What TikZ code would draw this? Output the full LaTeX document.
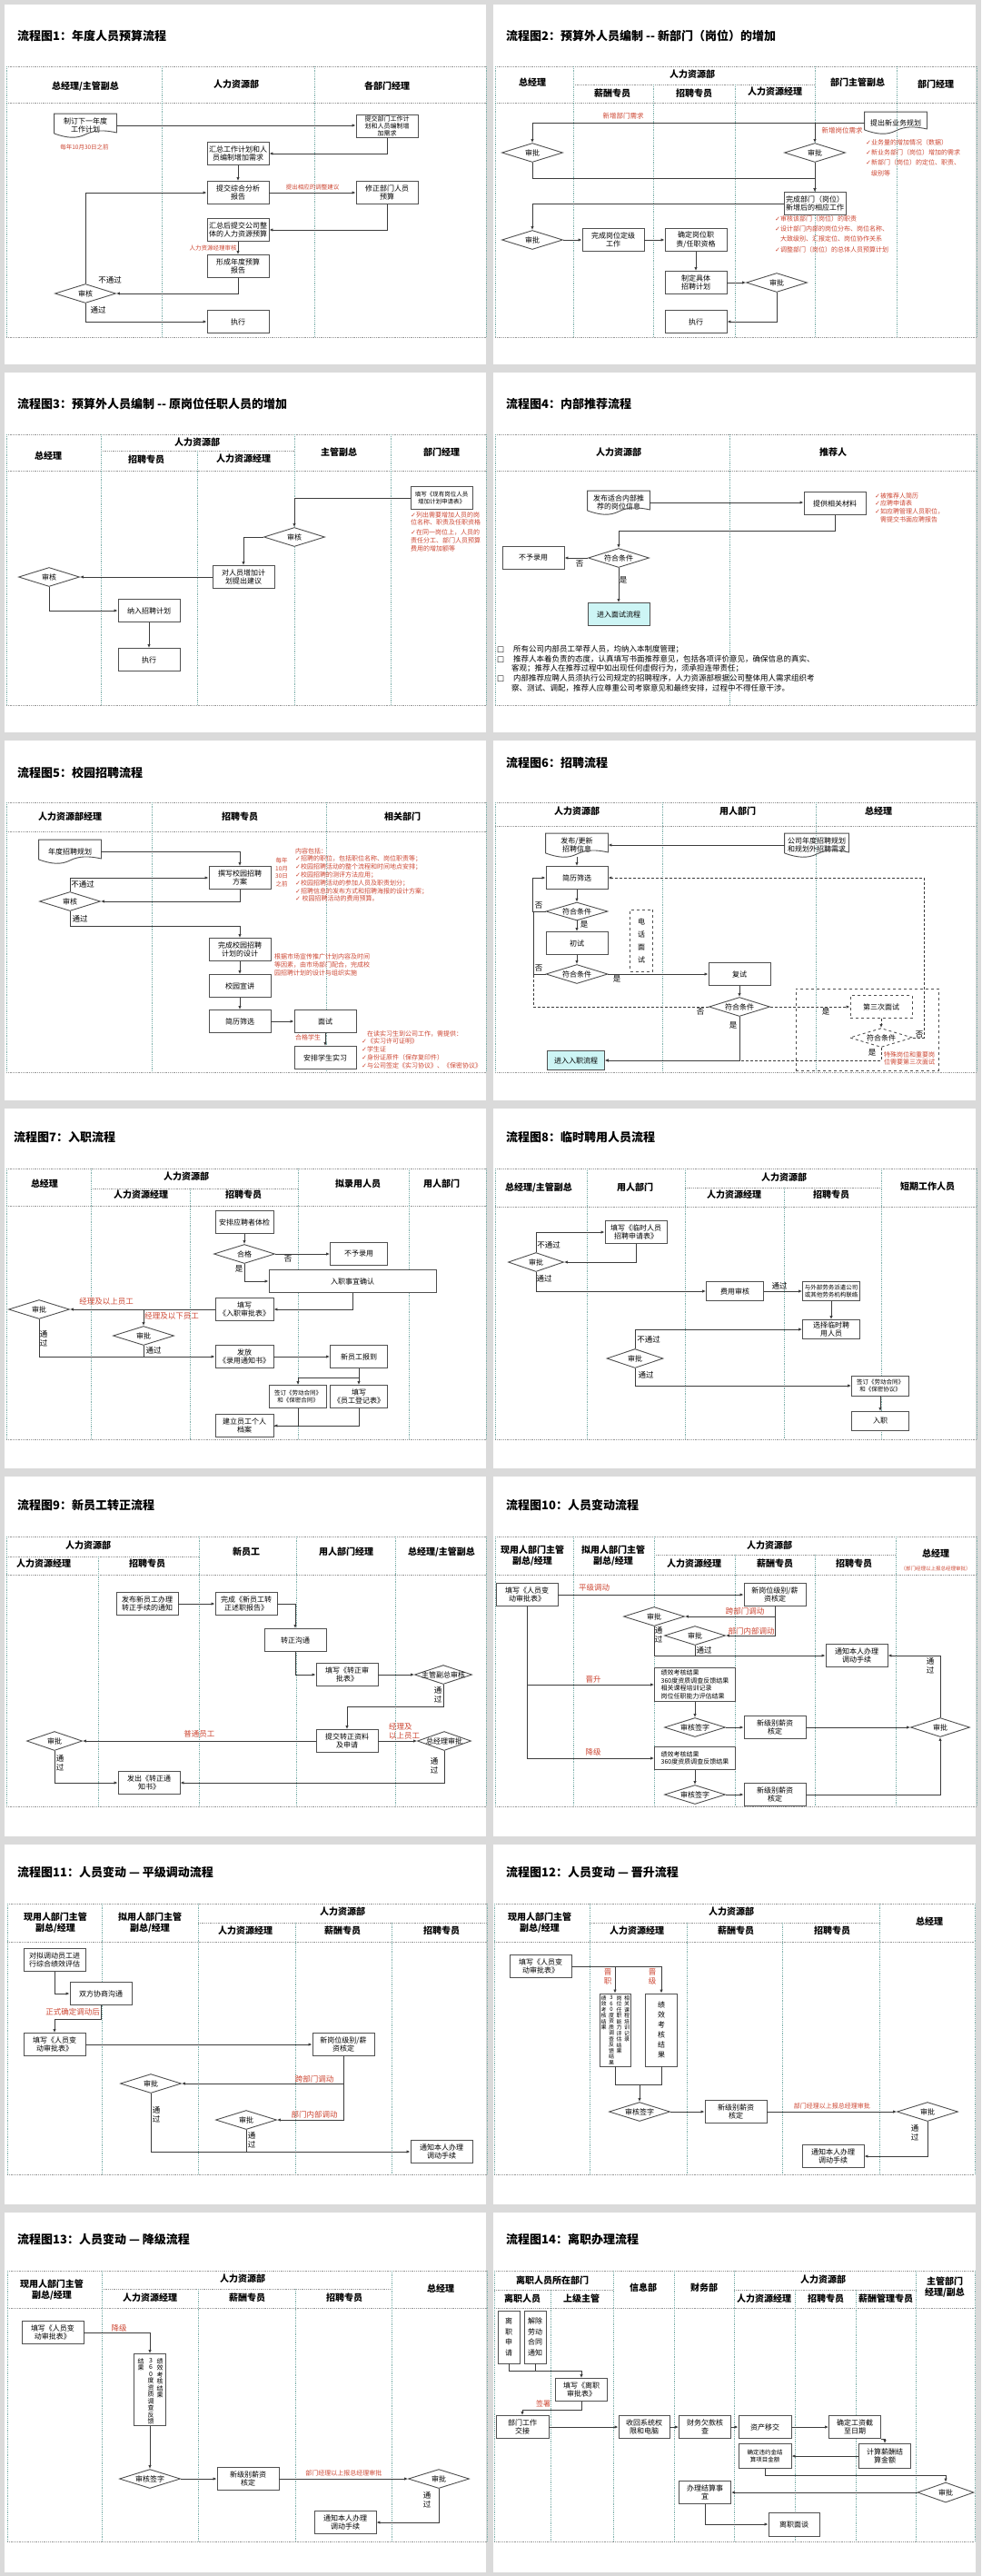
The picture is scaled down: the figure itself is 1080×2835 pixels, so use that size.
\documentclass[tikz,border=0pt]{standalone}
\usepackage{fontspec}
\setmainfont{Noto Sans CJK SC}
\newfontfamily\symf{DejaVu Sans}
\usepackage{tikz}
\usetikzlibrary{arrows.meta,positioning,shapes.geometric}
\definecolor{linegray}{RGB}{60,60,60}
\definecolor{boxgray}{RGB}{80,80,80}
\definecolor{lanegray}{RGB}{150,150,150}
\definecolor{laneteal}{RGB}{125,175,170}
\definecolor{notered}{RGB}{205,70,50}
\definecolor{softcyan}{RGB}{205,245,245}
\definecolor{pagegray}{RGB}{218,218,218}
\newcommand{\ck}{{\symf ✓}}
\newcommand{\sqb}{\makebox[18pt][l]{\symf\bfseries □}}
\newcommand{\docwave}[1]{%
  \draw[boxgray, line width=0.9pt] ([yshift=4pt]#1.south west) -- (#1.north west) -- (#1.north east) -- ([yshift=5pt]#1.south east)
    .. controls ([xshift=-14pt, yshift=8pt]#1.south east) and ([xshift=10pt, yshift=8pt]#1.south) .. ([yshift=3pt]#1.south)
    .. controls ([xshift=-10pt, yshift=-2pt]#1.south) and ([xshift=14pt, yshift=-1pt]#1.south west) .. ([yshift=4pt]#1.south west);}

\begin{document}
\begin{tikzpicture}[x=1pt, y=-1pt,
    box/.style={draw=boxgray, line width=0.9pt, fill=white, align=center,
                minimum width=68pt, minimum height=25pt, inner sep=1pt,
                font=\fontsize{8}{9.5}\selectfont},
    doc/.style={box, draw=none, fill=none},
    decision/.style={diamond, draw=boxgray, line width=0.9pt, fill=white, aspect=3.2,
                     minimum width=67pt, minimum height=21pt, inner sep=0pt,
                     label={[dlbl]center:#1}},
    dlbl/.style={font=\fontsize{8}{9.5}\selectfont, inner sep=0pt},
    note/.style={text=notered, font=\fontsize{7}{8.5}\selectfont, align=left, inner sep=0pt},
    rlbl/.style={note, font=\fontsize{8.5}{10}\selectfont},
    lbl/.style={font=\fontsize{8.5}{10}\selectfont, align=center, inner sep=0pt},
    vtxt/.style={font=\fontsize{6}{6.5}\selectfont, align=center, inner sep=0pt},
    head/.style={font=\bfseries\fontsize{10}{12}\selectfont, align=center, inner sep=0pt},
    ptitle/.style={font=\bfseries\fontsize{13}{15}\selectfont, anchor=west, inner sep=0pt},
    hline/.style={lanegray, densely dotted, line width=0.8pt},
    vline/.style={laneteal, densely dotted, line width=0.8pt},
    ln/.style={linegray, line width=0.8pt},
    arr/.style={ln, -{Latex[length=4pt, width=3.4pt]}}]

\useasboundingbox (0,0) rectangle (1080,2835);
\fill[pagegray] (0,0) rectangle (1080,2835);
\foreach \r in {0,...,6} {
  \fill[white] (5,405*\r+5) rectangle (535,405*\r+401);
  \fill[white] (543,405*\r+5) rectangle (1074,405*\r+401);
}

\begin{scope}
  \node[ptitle] (atitle) at (19,40) {流程图1：年度人员预算流程};
  \draw[hline] (7,73) -- (535,73) (7,113) -- (535,113) (7,371) -- (535,371);
  \foreach \x in {7,178,346,535} \draw[vline] (\x,73) -- (\x,371);
  \node[head] (ah1) at (94,95) {总经理/主管副总};
  \node[head] (ah2) at (260,93) {人力资源部};
  \node[head] (ah3) at (426,95) {各部门经理};

  \node[doc] (aplan) at (94,138) {制订下一年度\\工作计划};
  \docwave{aplan}
  \node[note, font=\fontsize{6.5}{8}\selectfont] (anote1) at (93,162) {每年10月30日之前};
  \node[box, font=\fontsize{7}{8.2}\selectfont] (areq) at (426,139) {提交部门工作计\\划和人员编制增\\加需求};
  \node[box] (asum) at (262,169) {汇总工作计划和人\\员编制增加需求};
  \node[box] (arep) at (262,212) {提交综合分析\\报告};
  \node[box] (afix) at (426,212) {修正部门人员\\预算};
  \node[box] (atot) at (262,253) {汇总后提交公司整\\体的人力资源预算};
  \node[box] (afin) at (262,293) {形成年度预算\\报告};
  \node[decision=审核] (achk) at (94,323) {};
  \node[box] (aexe) at (262,354) {执行};

  \draw[arr] (aplan.east) -- (aplan.east -| areq.west);
  \draw[arr] (areq.south) |- (asum.east);
  \draw[arr] (asum) -- (arep);
  \draw[arr] (arep) -- node[note, above=3pt, font=\fontsize{6.5}{8}\selectfont] (anote2) {提出相应的调整建议} (afix);
  \draw[arr] (afix.south) |- (atot.east);
  \draw[arr] (atot) -- node[note, left=1pt, font=\fontsize{6.5}{8}\selectfont] (anote3) {人力资源经理审核} (afin);
  \draw[arr] (afin.south) |- (achk.east);
  \draw[arr] (achk.north) |- (arep.west);
  \draw[arr] (achk.south) |- (aexe.west);
  \node[lbl] (ano) at (121,308) {不通过};
  \node[lbl] (ayes) at (108,341) {通过};
\end{scope}

\begin{scope}[shift={(540,0)}]
  \node[ptitle] (btitle) at (17,40) {流程图2：预算外人员编制 -{}- 新部门（岗位）的增加};
  \draw[hline] (5,73) -- (535,73) (5,113) -- (535,113) (5,371) -- (535,371) (91,93) -- (357,93);
  \foreach \x in {5,91,357,447,535} \draw[vline] (\x,73) -- (\x,371);
  \foreach \x in {179,269} \draw[vline] (\x,93) -- (\x,371);
  \node[head] (bh1) at (46,91) {总经理};
  \node[head] (bh2) at (222,82) {人力资源部};
  \node[head] (bh3) at (134,103) {薪酬专员};
  \node[head] (bh4) at (224,103) {招聘专员};
  \node[head] (bh5) at (313,101) {人力资源经理};
  \node[head] (bh6) at (404,91) {部门主管副总};
  \node[head] (bh7) at (490,93) {部门经理};

  \node[doc, minimum height=23pt] (bplan) at (446,135) {提出新业务规划};
  \docwave{bplan}
  \node[note, font=\fontsize{7.5}{9}\selectfont] (bn1) at (146,128) {新增部门需求};
  \node[note, font=\fontsize{7.5}{9}\selectfont] (bn2) at (387,144) {新增岗位需求};
  \node[decision=审批] (bgm) at (46,168) {};
  \node[decision=审批] (bvp) at (357,168) {};
  \node[note, anchor=north west, font=\fontsize{7}{11.3}\selectfont] (bn3) at (413,153)
    {\ck{}业务量的增加情况（数据）\\\ck{}新业务部门（岗位）增加的需求\\\ck{}新部门（岗位）的定位、职责、\\\phantom{\ck}级别等};
  \node[box] (bwork) at (357,224) {完成部门（岗位）\\新增后的相应工作};
  \node[note, anchor=north west, font=\fontsize{7}{11.3}\selectfont] (bn4) at (313,237)
    {\ck{}审核该部门（岗位）的职责\\\ck{}设计部门内部的岗位分布、岗位名称、\\\phantom{\ck}大致级别、汇报定位、岗位协作关系\\\ck{}调整部门（岗位）的总体人员预算计划};
  \node[decision=审批] (bgm2) at (46,264) {};
  \node[box] (bgrade) at (135,264) {完成岗位定级\\工作};
  \node[box] (bduty) at (226,264) {确定岗位职\\责/任职资格};
  \node[box] (bplan2) at (226,311) {制定具体\\招聘计划};
  \node[decision=审批] (bhr) at (315,311) {};
  \node[box] (bexe) at (226,354) {执行};

  \draw[arr] (bplan.west) -| (bgm.north);
  \draw[arr] (bvp.north |- bplan.west) -- (bvp.north);
  \draw[arr] (bgm.south) -- ++(0,17) -| (bwork.north);
  \draw[arr] (bvp.south) -- (bwork.north);
  \draw[arr] (bwork.west) -| (bgm2.north);
  \draw[arr] (bgm2) -- (bgrade);
  \draw[arr] (bgrade) -- (bduty);
  \draw[arr] (bduty) -- (bplan2);
  \draw[arr] (bplan2) -- (bhr);
  \draw[arr] (bhr.south) |- (bexe.east);
\end{scope}

\begin{scope}[shift={(0,405)}]
  \node[ptitle] (ctitle) at (19,40) {流程图3：预算外人员编制 -{}- 原岗位任职人员的增加};
  \draw[hline] (7,73) -- (535,73) (7,113) -- (535,113) (7,371) -- (535,371) (111,91) -- (324,91);
  \foreach \x in {7,111,324,430,535} \draw[vline] (\x,73) -- (\x,371);
  \draw[vline] (217,91) -- (217,371);
  \node[head] (ch1) at (53,97) {总经理};
  \node[head] (ch2) at (217,82) {人力资源部};
  \node[head] (ch3) at (161,101) {招聘专员};
  \node[head] (ch4) at (268,100) {人力资源经理};
  \node[head] (ch5) at (373,93) {主管副总};
  \node[head] (ch6) at (486,93) {部门经理};

  \node[box, font=\fontsize{6.5}{8}\selectfont] (capp) at (486,143) {填写《现有岗位人员\\增加计划申请表》};
  \node[note, anchor=north west, font=\fontsize{7}{8.8}\selectfont] (cn1) at (452,158)
    {\ck{}列出需要增加人员的岗\\位名称、职责及任职资格\\[2pt]\ck{}在同一岗位上，人员的\\责任分工、部门人员预算\\费用的增加额等};
  \node[decision=审核] (cvp) at (324,186) {};
  \node[box] (cadv) at (268,230) {对人员增加计\\划提出建议};
  \node[decision=审核] (cgm) at (54,230) {};
  \node[box] (cplan) at (164,267) {纳入招聘计划};
  \node[box] (cexe) at (164,321) {执行};

  \draw[arr] (capp.west) -| (cvp.north);
  \draw[arr] (cvp.west) -| (cadv.north);
  \draw[arr] (cadv) -- (cgm);
  \draw[arr] (cgm.south) |- (cplan.west);
  \draw[arr] (cplan) -- (cexe);
\end{scope}

\begin{scope}[shift={(540,405)}]
  \node[ptitle] (dtitle) at (17,40) {流程图4：内部推荐流程};
  \draw[hline] (5,73) -- (535,73) (5,113) -- (535,113) (5,371) -- (535,371);
  \foreach \x in {5,263,535} \draw[vline] (\x,73) -- (\x,371);
  \node[head] (dh1) at (141,93) {人力资源部};
  \node[head] (dh2) at (377,93) {推荐人};

  \node[doc] (dpub) at (141,148) {发布适合内部推\\荐的岗位信息};
  \docwave{dpub}
  \node[box] (dmat) at (379,149) {提供相关材料};
  \node[note, anchor=north west, font=\fontsize{7}{8.7}\selectfont] (dn1) at (423,137)
    {\ck{}被推荐人简历\\\ck{}应聘申请表\\\ck{}如应聘管理人员职位，\\\phantom{\ck}需提交书面应聘报告};
  \node[decision=符合条件] (dok) at (141,209) {};
  \node[box] (dno) at (47,209) {不予录用};
  \node[box, fill=softcyan] (dint) at (141,271) {进入面试流程};

  \draw[arr] (dpub.east) -- (dpub.east -| dmat.west);
  \draw[arr] (dmat.south) -- ++(0,17) -| (dok.north);
  \draw[arr] (dok) -- (dno);
  \draw[arr] (dok) -- (dint);
  \node[lbl] (dl1) at (98,216) {否};
  \node[lbl] (dl2) at (146,233) {是};

  \node[anchor=north west, align=left, inner sep=0pt, font=\fontsize{8.5}{10.7}\selectfont] (drules) at (7,305)
    {\sqb 所有公司内部员工举荐人员，均纳入本制度管理；\\
     \sqb 推荐人本着负责的态度，认真填写书面推荐意见，包括各项评价意见，确保信息的真实、\\
     \hspace*{16pt}客观；推荐人在推荐过程中如出现任何虚假行为，须承担连带责任；\\
     \sqb 内部推荐应聘人员须执行公司规定的招聘程序，人力资源部根据公司整体用人需求组织考\\
     \hspace*{16pt}察、测试、调配，推荐人应尊重公司考察意见和最终安排，过程中不得任意干涉。};
\end{scope}

\begin{scope}[shift={(0,810)}]
  \node[ptitle] (etitle) at (19,40) {流程图5：校园招聘流程};
  \draw[hline] (7,73) -- (535,73) (7,105) -- (535,105) (7,370) -- (535,370);
  \foreach \x in {7,167,359,535} \draw[vline] (\x,73) -- (\x,370);
  \node[head] (eh1) at (77,89) {人力资源部经理};
  \node[head] (eh2) at (264,89) {招聘专员};
  \node[head] (eh3) at (443,89) {相关部门};

  \node[doc] (eplan) at (77,127) {年度招聘规划};
  \docwave{eplan}
  \node[box] (edraft) at (264,156) {撰写校园招聘\\方案};
  \node[decision=审核] (echk) at (77,182) {};
  \node[box] (edesign) at (264,235) {完成校园招聘\\计划的设计};
  \node[box] (etalk) at (264,275) {校园宣讲};
  \node[box] (escreen) at (264,314) {简历筛选};
  \node[box] (eint) at (358,314) {面试};
  \node[box] (eintern) at (358,354) {安排学生实习};
  \node[note, align=center, font=\fontsize{6.5}{8.7}\selectfont] (en1) at (310,150) {每年\\10月\\30日\\之前};
  \node[note, anchor=north west, font=\fontsize{7}{8.8}\selectfont] (en2) at (325,123)
    {内容包括：\\\ck{}招聘的职位，包括职位名称、岗位职责等；\\\ck{}校园招聘活动的整个流程和时间地点安排；\\\ck{}校园招聘的测评方法应用；\\\ck{}校园招聘活动的参加人员及职责划分；\\\ck{}招聘信息的发布方式和招聘海报的设计方案；\\\ck{} 校园招聘活动的费用预算。};
  \node[note, anchor=north west, font=\fontsize{7}{9}\selectfont] (en3) at (302,239)
    {根据市场宣传推广计划内容及时间\\等因素，由市场部门配合，完成校\\园招聘计划的设计与组织实施};
  \node[note] (en4) at (339,332) {合格学生};
  \node[note, anchor=north west, font=\fontsize{7}{8.8}\selectfont] (en5) at (398,324)
    {\phantom{\ck}在读实习生到公司工作，需提供：\\\ck{}《实习许可证明》\\\ck{}学生证\\\ck{}身份证原件（保存复印件）\\\ck{}与公司签定《实习协议》、《保密协议》};

  \draw[arr] (eplan.east) -| (edraft.north);
  \draw[arr] (edraft.south) |- (echk.east);
  \draw[arr] (echk.north) |- (edraft.west);
  \draw[arr] (echk.south) -- ++(0,16) -| (edesign.north);
  \draw[arr] (edesign) -- (etalk);
  \draw[arr] (etalk) -- (escreen);
  \draw[arr] (escreen) -- (eint);
  \draw[arr] (eint) -- (eintern);
  \node[lbl] (el1) at (91,163) {不通过};
  \node[lbl] (el2) at (88,201) {通过};
\end{scope}

\begin{scope}[shift={(540,810)}]
  \node[ptitle] (ftitle) at (17,30) {流程图6：招聘流程};
  \draw[hline] (5,73) -- (535,73) (5,99) -- (535,99) (5,370) -- (535,370);
  \foreach \x in {5,189,358,535} \draw[vline] (\x,73) -- (\x,370);
  \node[head] (fh1) at (95,83) {人力资源部};
  \node[head] (fh2) at (272,83) {用人部门};
  \node[head] (fh3) at (427,83) {总经理};

  \node[draw=boxgray, dashed, line width=0.9pt, minimum width=157pt, minimum height=90pt] (fgrp) at (414.5,323) {};
  \node[doc] (fpub) at (95,120) {发布/更新\\招聘信息};
  \docwave{fpub}
  \node[doc, minimum width=70pt] (fneed) at (359,120) {公司年度招聘规划\\和规划外招聘需求};
  \docwave{fneed}
  \node[box] (fscreen) at (95,156) {简历筛选};
  \node[decision=符合条件, minimum width=68pt, minimum height=20pt] (fok1) at (95,193) {};
  \node[box] (ffirst) at (95,228) {初试};
  \node[decision=符合条件, minimum width=68pt] (fok2) at (95,262) {};
  \node[box, dashed, minimum width=25pt, minimum height=68pt, font=\fontsize{8}{14}\selectfont] (fphone) at (166,225) {电\\话\\面\\试};
  \node[box] (fsecond) at (274,262) {复试};
  \node[decision=符合条件] (fok3) at (274,298) {};
  \node[box, dashed] (fthird) at (430,298) {第三次面试};
  \node[decision=符合条件, dashed, minimum width=69pt] (fok4) at (430,332) {};
  \node[box, fill=softcyan, minimum width=63pt, minimum height=21pt] (fonb) at (94,357) {进入入职流程};
  \node[note, font=\fontsize{7}{8.5}\selectfont] (fnote) at (461,355) {特殊岗位和重要岗\\位需要第三次面试};
  \coordinate (fret) at (47,262);

  \draw[arr] (fneed.west) -- (fneed.west -| fpub.east);
  \draw[arr] (fpub) -- (fscreen);
  \draw[arr] (fscreen) -- (fok1);
  \draw[arr] (fok1) -- (ffirst);
  \draw[arr] (ffirst) -- (fok2);
  \draw[arr] (fok1.west) -- ++(-14,0) |- (fscreen.west);
  \draw[ln] (fok2.west) -- (fret) -- (fret |- fok1.west);
  \draw[ln, densely dashed] (fok3.west) -| (fret);
  \draw[arr] (fok2) -- (fsecond);
  \draw[arr] (fsecond) -- (fok3);
  \draw[arr, densely dashed] (fok3) -- (fthird);
  \draw[arr, densely dashed] (fthird) -- (fok4);
  \draw[arr, densely dashed] (fok4.east) -- ++(12,0) |- (fscreen.east);
  \draw[arr, densely dashed] (fok4.south) |- (fonb.east);
  \draw[arr] (fok3.south) |- (fonb.east);
  \node[lbl] (fl1) at (53,186) {否};
  \node[lbl] (fl2) at (103,207) {是};
  \node[lbl] (fl3) at (53,255) {否};
  \node[lbl] (fl4) at (139,267) {是};
  \node[lbl] (fl5) at (231,303) {否};
  \node[lbl] (fl6) at (369,303) {是};
  \node[lbl] (fl7) at (267,318) {是};
  \node[lbl] (fl8) at (472,328) {否};
  \node[lbl] (fl9) at (420,348) {是};
\end{scope}

\begin{scope}[shift={(0,1215)}]
  \node[ptitle] (gtitle) at (15,37) {流程图7：入职流程};
  \draw[hline] (7,71) -- (535,71) (7,112) -- (535,112) (7,369) -- (535,369) (100,93) -- (328,93);
  \foreach \x in {7,100,328,450,535} \draw[vline] (\x,71) -- (\x,369);
  \draw[vline] (209,93) -- (209,369);
  \node[head] (gh1) at (49,88) {总经理};
  \node[head] (gh2) at (205,80) {人力资源部};
  \node[head] (gh3) at (155,100) {人力资源经理};
  \node[head] (gh4) at (268,100) {招聘专员};
  \node[head] (gh5) at (394,88) {拟录用人员};
  \node[head] (gh6) at (486,88) {用人部门};

  \node[box, minimum width=64pt] (gexam) at (269,130) {安排应聘者体检};
  \node[decision=合格] (gok) at (269,165) {};
  \node[box, minimum width=63pt] (gno) at (395,165) {不予录用};
  \node[box, minimum width=184pt] (gconf) at (388,195) {入职事宜确认};
  \node[box, minimum width=64pt] (gform) at (269,226) {填写\\《入职审批表》};
  \node[decision=审批] (ggm) at (43,226) {};
  \node[decision=审批] (ghr) at (158,255) {};
  \node[box, minimum width=64pt] (goffer) at (269,278) {发放\\《录用通知书》};
  \node[box, minimum width=63pt] (greport) at (395,278) {新员工报到};
  \node[box, minimum width=63pt, font=\fontsize{6.5}{8}\selectfont] (gcon) at (328,322) {签订《劳动合同》\\和《保密合同》};
  \node[box, minimum width=63pt] (greg) at (395,322) {填写\\《员工登记表》};
  \node[box, minimum width=64pt] (gfile) at (269,354) {建立员工个人\\档案};

  \draw[arr] (gexam) -- (gok);
  \draw[arr] (gok) -- (gno);
  \draw[arr] (gok.south) |- (gconf.west);
  \draw[arr] (gconf.south) |- (gform.east);
  \draw[arr] (gform) -- (ggm);
  \draw[arr] (ghr.north |- gform.west) -- (ghr.north);
  \draw[arr] (ggm.south) |- (goffer.west);
  \draw[ln] (ghr.south) -- (ghr.south |- goffer.west);
  \draw[arr] (goffer) -- (greport);
  \draw[arr] (greport) -- (greg);
  \draw[arr] (greport.south) -- ++(0,10) -| (gcon.north);
  \draw[arr] (gcon.south) |- (gfile.east);
  \draw[ln] (greg.south) |- (gfile.east);
  \node[lbl] (gl1) at (317,170) {否};
  \node[lbl] (gl2) at (263,181) {是};
  \node[rlbl] (gl3) at (117,217) {经理及以上员工};
  \node[rlbl] (gl4) at (189,233) {经理及以下员工};
  \node[lbl] (gl5) at (48,258) {通\\过};
  \node[lbl] (gl6) at (169,271) {通过};
\end{scope}

\begin{scope}[shift={(540,1215)}]
  \node[ptitle] (htitle) at (17,37) {流程图8：临时聘用人员流程};
  \draw[hline] (5,71) -- (535,71) (5,113) -- (535,113) (5,369) -- (535,369) (214,92) -- (430,92);
  \foreach \x in {5,106,214,430,535} \draw[vline] (\x,71) -- (\x,369);
  \draw[vline] (323,92) -- (323,369);
  \node[head] (hh1) at (53,92) {总经理/主管副总};
  \node[head] (hh2) at (159,92) {用人部门};
  \node[head] (hh3) at (323,81) {人力资源部};
  \node[head] (hh4) at (268,100) {人力资源经理};
  \node[head] (hh5) at (375,100) {招聘专员};
  \node[head] (hh6) at (481,91) {短期工作人员};

  \node[box] (happ) at (160,141) {填写《临时人员\\招聘申请表》};
  \node[decision=审批, minimum width=61pt] (hgm) at (50,174) {};
  \node[box, minimum width=63pt, minimum height=21pt] (hcost) at (269,206) {费用审核};
  \node[box, minimum width=63pt, minimum height=21pt, font=\fontsize{6.5}{8}\selectfont] (hagent) at (375,206) {与外部劳务派遣公司\\或其他劳务机构联络};
  \node[box, minimum width=63pt, minimum height=21pt] (hsel) at (375,248) {选择临时聘\\用人员};
  \node[decision=审批, minimum width=62pt] (hdept) at (159,280) {};
  \node[box, minimum width=63pt, minimum height=22pt, font=\fontsize{6.5}{8}\selectfont] (hsign) at (429,310) {签订《劳动合同》\\和《保密协议》};
  \node[box, minimum width=63pt, minimum height=21pt] (hjoin) at (429,349) {入职};

  \draw[arr] (happ.south) |- (hgm.east);
  \draw[arr] (hgm.north) |- (happ.west);
  \draw[arr] (hgm.south) |- (hcost.west);
  \draw[arr] (hcost) -- (hagent);
  \draw[arr] (hagent) -- (hsel);
  \draw[arr] (hdept.north) |- (hsel.west);
  \draw[arr] (hdept.south) |- (hsign.west);
  \draw[arr] (hsign) -- (hjoin);
  \node[lbl] (hl1) at (64,155) {不通过};
  \node[lbl] (hl2) at (59,192) {通过};
  \node[lbl] (hl3) at (318,200) {通过};
  \node[lbl] (hl4) at (174,259) {不通过};
  \node[lbl] (hl5) at (171,298) {通过};
\end{scope}

\begin{scope}[shift={(0,1620)}]
  \node[ptitle] (ititle) at (19,37) {流程图9：新员工转正流程};
  \draw[hline] (7,71) -- (535,71) (7,113) -- (535,113) (7,368) -- (535,368) (7,93) -- (219,93);
  \foreach \x in {7,219,326,435,535} \draw[vline] (\x,71) -- (\x,368);
  \draw[vline] (108,93) -- (108,368);
  \node[head] (ih1) at (97,81) {人力资源部};
  \node[head] (ih2) at (48,101) {人力资源经理};
  \node[head] (ih3) at (162,101) {招聘专员};
  \node[head] (ih4) at (271,88) {新员工};
  \node[head] (ih5) at (381,88) {用人部门经理};
  \node[head] (ih6) at (486,88) {总经理/主管副总};

  \node[box] (inotice) at (162,145) {发布新员工办理\\转正手续的通知};
  \node[box] (ireport) at (271,145) {完成《新员工转\\正述职报告》};
  \node[box] (italk) at (325,185) {转正沟通};
  \node[box] (iform) at (382,223) {填写《转正审\\批表》};
  \node[decision=主管副总审核, minimum width=63pt] (ivp) at (488,223) {};
  \node[box] (isub) at (382,296) {提交转正资料\\及申请};
  \node[decision=审批, minimum width=61pt] (ihr) at (60,296) {};
  \node[decision=总经理审批, minimum width=59pt] (igm) at (489,296) {};
  \node[box] (inote) at (164,342) {发出《转正通\\知书》};

  \draw[arr] (inotice) -- (ireport);
  \draw[arr] (ireport.east) -| (italk.north);
  \draw[arr] (italk.south) |- (iform.west);
  \draw[arr] (iform) -- (ivp);
  \draw[arr] (ivp.south) -- ++(0,24) -| (isub.north);
  \draw[arr] (isub) -- node[rlbl, above=3pt] (il1) {普通员工} (ihr);
  \draw[arr] (isub) -- (igm);
  \draw[arr] (ihr.south) |- (inote.west);
  \draw[arr] (igm.south) |- (inote.east);
  \node[rlbl, anchor=west] (il2) at (428,285) {经理及\\以上员工};
  \node[lbl] (il3) at (482,245) {通\\过};
  \node[lbl] (il4) at (66,320) {通\\过};
  \node[lbl] (il5) at (478,323) {通\\过};
\end{scope}

\begin{scope}[shift={(540,1620)}]
  \node[ptitle] (jtitle) at (17,37) {流程图10：人员变动流程};
  \draw[hline] (5,71) -- (535,71) (5,113) -- (535,113) (5,368) -- (535,368) (180,91) -- (446,91);
  \foreach \x in {5,91,180,446,535} \draw[vline] (\x,71) -- (\x,368);
  \foreach \x in {269,357} \draw[vline] (\x,91) -- (\x,368);
  \node[head] (jh1) at (46,92) {现用人部门主管\\副总/经理};
  \node[head] (jh2) at (135,92) {拟用人部门主管\\副总/经理};
  \node[head] (jh3) at (307,81) {人力资源部};
  \node[head] (jh4) at (224,101) {人力资源经理};
  \node[head] (jh5) at (313,101) {薪酬专员};
  \node[head] (jh6) at (400,101) {招聘专员};
  \node[head] (jh7) at (490,90) {总经理};
  \node[note, font=\fontsize{5.5}{7}\selectfont] (jh8) at (490,106) {（部门经理以上报总经理审批）};

  \node[box] (japp) at (40,135) {填写《人员变\\动审批表》};
  \node[box] (jsal) at (313,135) {新岗位级别/薪\\资核定};
  \node[decision=审批] (jcross) at (180,159) {};
  \node[decision=审批] (jin) at (225,180) {};
  \node[box] (jnotify) at (403,202) {通知本人办理\\调动手续};
  \node[box, minimum width=89pt, minimum height=37pt, align=left, font=\fontsize{7}{8.5}\selectfont] (jup) at (225,234)
    {绩效考核结果\\360度资质调查反馈结果\\相关课程培训记录\\岗位任职能力评估结果};
  \node[decision=审核签字] (jsign1) at (225,281) {};
  \node[box] (jsal1) at (313,281) {新级别薪资\\核定};
  \node[decision=审批, minimum width=65pt] (jgm) at (495,281) {};
  \node[box, minimum width=89pt, align=left, font=\fontsize{7}{8.5}\selectfont] (jdown) at (225,315)
    {绩效考核结果\\360度资质调查反馈结果};
  \node[decision=审核签字] (jsign2) at (225,355) {};
  \node[box] (jsal2) at (313,355) {新级别薪资\\核定};

  \draw[arr] (japp) -- (japp -| jsal.west);
  \draw[arr] (jsal.south) |- (jcross.east);
  \draw[arr] (jsal.south) |- (jin.east);
  \draw[arr] (jcross.south) |- (jnotify.west);
  \draw[ln] (jin.south) -- (jin.south |- jnotify.west);
  \draw[arr] (jgm.north) |- (jnotify.east);
  \draw[arr] (japp.south) |- (jup.west);
  \draw[arr] (japp.south) |- (jdown.west);
  \draw[arr] (jup) -- (jsign1);
  \draw[arr] (jsign1) -- (jsal1);
  \draw[arr] (jsal1) -- (jgm);
  \draw[arr] (jdown) -- (jsign2);
  \draw[arr] (jsign2) -- (jsal2);
  \draw[arr] (jsal2.east) -| (jgm.south);
  \node[rlbl] (jl1) at (114,127) {平级调动};
  \node[rlbl] (jl2) at (280,153) {跨部门调动};
  \node[rlbl] (jl3) at (287,175) {部门内部调动};
  \node[rlbl] (jl4) at (113,228) {晋升};
  \node[rlbl] (jl5) at (113,308) {降级};
  \node[lbl] (jl6) at (185,179) {通\\过};
  \node[lbl] (jl7) at (235,196) {通过};
  \node[lbl] (jl8) at (484,213) {通\\过};
\end{scope}

\begin{scope}[shift={(0,2025)}]
  \node[ptitle] (ktitle) at (19,36) {流程图11：人员变动 — 平级调动流程};
  \draw[hline] (8,70) -- (536,70) (8,112) -- (536,112) (8,368) -- (536,368) (218,91) -- (536,91);
  \foreach \x in {8,112,218,536} \draw[vline] (\x,70) -- (\x,368);
  \foreach \x in {325,431} \draw[vline] (\x,91) -- (\x,368);
  \node[head] (kh1) at (61,91) {现用人部门主管\\副总/经理};
  \node[head] (kh2) at (165,91) {拟用人部门主管\\副总/经理};
  \node[head] (kh3) at (377,79) {人力资源部};
  \node[head] (kh4) at (270,100) {人力资源经理};
  \node[head] (kh5) at (377,100) {薪酬专员};
  \node[head] (kh6) at (486,100) {招聘专员};

  \node[box] (keval) at (60,132) {对拟调动员工进\\行综合绩效评估};
  \node[box] (kneg) at (111,169) {双方协商沟通};
  \node[box] (kapp) at (60,225) {填写《人员变\\动审批表》};
  \node[box] (ksal) at (378,225) {新岗位级别/薪\\资核定};
  \node[decision=审批] (kcross) at (166,268) {};
  \node[decision=审批] (kin) at (271,308) {};
  \node[box] (knotify) at (486,343) {通知本人办理\\调动手续};

  \draw[arr] (keval.south) |- (kneg.west);
  \draw[arr] (kneg.south) -- ++(0,15) -| (kapp.north);
  \draw[arr] (kapp) -- (ksal);
  \draw[arr] (ksal.south) |- (kcross.east);
  \draw[arr] (ksal.south) |- (kin.east);
  \draw[arr] (kcross.south) |- (knotify.west);
  \draw[ln] (kin.south) -- (kin.south |- knotify.west);
  \node[rlbl] (kl1) at (80,189) {正式确定调动后};
  \node[rlbl] (kl2) at (346,263) {跨部门调动};
  \node[rlbl] (kl3) at (346,302) {部门内部调动};
  \node[lbl] (kl4) at (172,302) {通\\过};
  \node[lbl] (kl5) at (277,330) {通\\过};
\end{scope}

\begin{scope}[shift={(540,2025)}]
  \node[ptitle] (ltitle) at (17,36) {流程图12：人员变动 — 晋升流程};
  \draw[hline] (4,70) -- (533,70) (4,112) -- (533,112) (4,368) -- (533,368) (109,91) -- (428,91);
  \foreach \x in {4,109,428,533} \draw[vline] (\x,70) -- (\x,368);
  \foreach \x in {216,321} \draw[vline] (\x,91) -- (\x,368);
  \node[head] (lh1) at (54,91) {现用人部门主管\\副总/经理};
  \node[head] (lh2) at (265,79) {人力资源部};
  \node[head] (lh3) at (161,100) {人力资源经理};
  \node[head] (lh4) at (270,100) {薪酬专员};
  \node[head] (lh5) at (376,100) {招聘专员};
  \node[head] (lh6) at (483,90) {总经理};

  \node[box] (lapp) at (55,139) {填写《人员变\\动审批表》};
  \node[box, minimum width=34pt, minimum height=80pt] (lpost) at (137,209) {};
  \node[vtxt, anchor=north] (lpost1) at (124.5,171) {绩\\效\\考\\核\\结\\果};
  \node[vtxt, anchor=north] (lpost2) at (133,171) {3\\6\\0\\度\\资\\质\\调\\查\\反\\馈\\结\\果};
  \node[vtxt, anchor=north] (lpost3) at (141.5,171) {岗\\位\\任\\职\\能\\力\\评\\估\\结\\果};
  \node[vtxt, anchor=north] (lpost4) at (150,171) {相\\关\\课\\程\\培\\训\\记\\录};
  \node[box, minimum width=35pt, minimum height=80pt, font=\fontsize{8}{11}\selectfont] (lgrade) at (188,209) {绩\\效\\考\\核\\结\\果};
  \node[decision=审核签字] (lsign) at (164,299) {};
  \node[box] (lsal) at (270,299) {新级别薪资\\核定};
  \node[decision=审批] (lgm) at (481,299) {};
  \node[box] (lnotify) at (377,348) {通知本人办理\\调动手续};
  \coordinate (ljoin) at (164,269);

  \draw[arr] (lapp.east) -| (lgrade.north);
  \draw[arr] (lpost.north |- lapp.east) -- (lpost.north);
  \draw[ln] (lpost.south) |- (ljoin) -| (lgrade.south);
  \draw[arr] (ljoin) -- (lsign.north);
  \draw[arr] (lsign) -- (lsal);
  \draw[arr] (lsal) -- node[note, above=3pt] (ll1) {部门经理以上报总经理审批} (lgm);
  \draw[arr] (lgm.south) |- (lnotify.east);
  \node[rlbl] (ll2) at (129,150) {晋\\职};
  \node[rlbl] (ll3) at (178,150) {晋\\级};
  \node[lbl] (ll4) at (467,322) {通\\过};
\end{scope}

\begin{scope}[shift={(0,2430)}]
  \node[ptitle] (mtitle) at (19,35) {流程图13：人员变动 — 降级流程};
  \draw[hline] (8,69) -- (536,69) (8,110) -- (536,110) (8,367) -- (536,367) (112,89) -- (431,89);
  \foreach \x in {8,112,431,536} \draw[vline] (\x,69) -- (\x,367);
  \foreach \x in {218,325} \draw[vline] (\x,89) -- (\x,367);
  \node[head] (mh1) at (57,90) {现用人部门主管\\副总/经理};
  \node[head] (mh2) at (267,78) {人力资源部};
  \node[head] (mh3) at (165,99) {人力资源经理};
  \node[head] (mh4) at (272,99) {薪酬专员};
  \node[head] (mh5) at (379,99) {招聘专员};
  \node[head] (mh6) at (485,89) {总经理};

  \node[box] (mapp) at (58,137) {填写《人员变\\动审批表》};
  \node[box, minimum width=35pt, minimum height=79pt] (mres) at (165,200) {};
  \node[vtxt, anchor=north, font=\fontsize{7}{7.5}\selectfont] (mres1) at (176,165) {绩\\效\\考\\核\\结\\果};
  \node[vtxt, anchor=north, font=\fontsize{7}{7.5}\selectfont] (mres2) at (166,165) {3\\6\\0\\度\\资\\质\\调\\查\\反\\馈};
  \node[vtxt, anchor=north, font=\fontsize{7}{7.5}\selectfont] (mres3) at (155,165) {结\\果};
  \node[decision=审核签字] (msign) at (165,298) {};
  \node[box] (msal) at (273,298) {新级别薪资\\核定};
  \node[decision=审批] (mgm) at (483,298) {};
  \node[box] (mnotify) at (380,346) {通知本人办理\\调动手续};

  \draw[arr] (mapp.east) -| (mres.north);
  \draw[arr] (mres) -- (msign);
  \draw[arr] (msign) -- (msal);
  \draw[arr] (msal) -- node[note, above=3pt] (ml1) {部门经理以上报总经理审批} (mgm);
  \draw[arr] (mgm.south) |- (mnotify.east);
  \node[rlbl] (ml2) at (131,132) {降级};
  \node[lbl] (ml3) at (470,321) {通\\过};
\end{scope}

\begin{scope}[shift={(540,2430)}]
  \node[ptitle] (ntitle) at (17,35) {流程图14：离职办理流程};
  \draw[hline] (4,69) -- (533,69) (4,110) -- (533,110) (4,367) -- (533,367) (4,90) -- (135,90) (268,90) -- (468,90);
  \foreach \x in {4,135,202,268,468,533} \draw[vline] (\x,69) -- (\x,367);
  \foreach \x in {66,335,402} \draw[vline] (\x,90) -- (\x,367);
  \node[head] (nh1) at (68,80) {离职人员所在部门};
  \node[head] (nh2) at (35,100) {离职人员};
  \node[head] (nh3) at (100,100) {上级主管};
  \node[head] (nh4) at (168,88) {信息部};
  \node[head] (nh5) at (235,88) {财务部};
  \node[head] (nh6) at (366,79) {人力资源部};
  \node[head] (nh7) at (301,100) {人力资源经理};
  \node[head] (nh8) at (369,100) {招聘专员};
  \node[head] (nh9) at (435,100) {薪酬管理专员};
  \node[head] (nh10) at (500,87) {主管部门\\经理/副总};

  \node[box, minimum width=24pt, minimum height=58pt, font=\fontsize{8}{11.7}\selectfont] (nquit) at (20,142) {离\\职\\申\\请};
  \node[box, minimum width=24pt, minimum height=58pt, font=\fontsize{8}{11.7}\selectfont] (nterm) at (49,142) {解除\\劳动\\合同\\通知};
  \node[box, minimum width=57pt] (nform) at (100,200) {填写《离职\\审批表》};
  \node[box, minimum width=58pt] (nhand) at (35,241) {部门工作\\交接};
  \node[box, minimum width=56pt] (nit) at (169,241) {收回系统权\\限和电脑};
  \node[box, minimum width=57pt] (nfin) at (236,241) {财务欠款核\\查};
  \node[box, minimum width=58pt] (nasset) at (302,241) {资产移交};
  \node[box, minimum width=57pt] (ndate) at (401,241) {确定工资截\\至日期};
  \node[box, minimum width=57pt, minimum height=27pt] (ncalc) at (434,273) {计算薪酬结\\算金额};
  \node[box, minimum width=58pt, minimum height=27pt, font=\fontsize{6.5}{8}\selectfont] (npen) at (302,273) {确定违约金结\\算项目金额};
  \node[decision=审批, minimum width=62pt, minimum height=22pt] (ngm) at (501,313) {};
  \node[box, minimum width=57pt] (nsettle) at (236,313) {办理结算事\\宜};
  \node[box, minimum width=56pt, minimum height=26pt] (nexit) at (334,348) {离职面谈};

  \draw[arr] (nquit.south) -- ++(0,8) -| (nform.north);
  \draw[ln] (nterm.south) -- ++(0,8);
  \draw[arr] (nform.south) -- ++(0,9) -| (nhand.north);
  \draw[arr] (nhand) -- (nit);
  \draw[arr] (nit) -- (nfin);
  \draw[arr] (nfin) -- (nasset);
  \draw[arr] (nasset) -- (ndate);
  \draw[arr] (ndate.south east) -| (ncalc.north);
  \draw[arr] (ncalc) -- (npen);
  \draw[arr] (npen.south) -- ++(0,7.5) -| (ngm.north);
  \draw[arr] (ngm) -- (nsettle);
  \draw[arr] (nsettle.south) |- (nexit.west);
  \node[rlbl, font=\fontsize{8}{9}\selectfont] (nl1) at (58,215) {签署};
\end{scope}

\end{tikzpicture}
\end{document}
